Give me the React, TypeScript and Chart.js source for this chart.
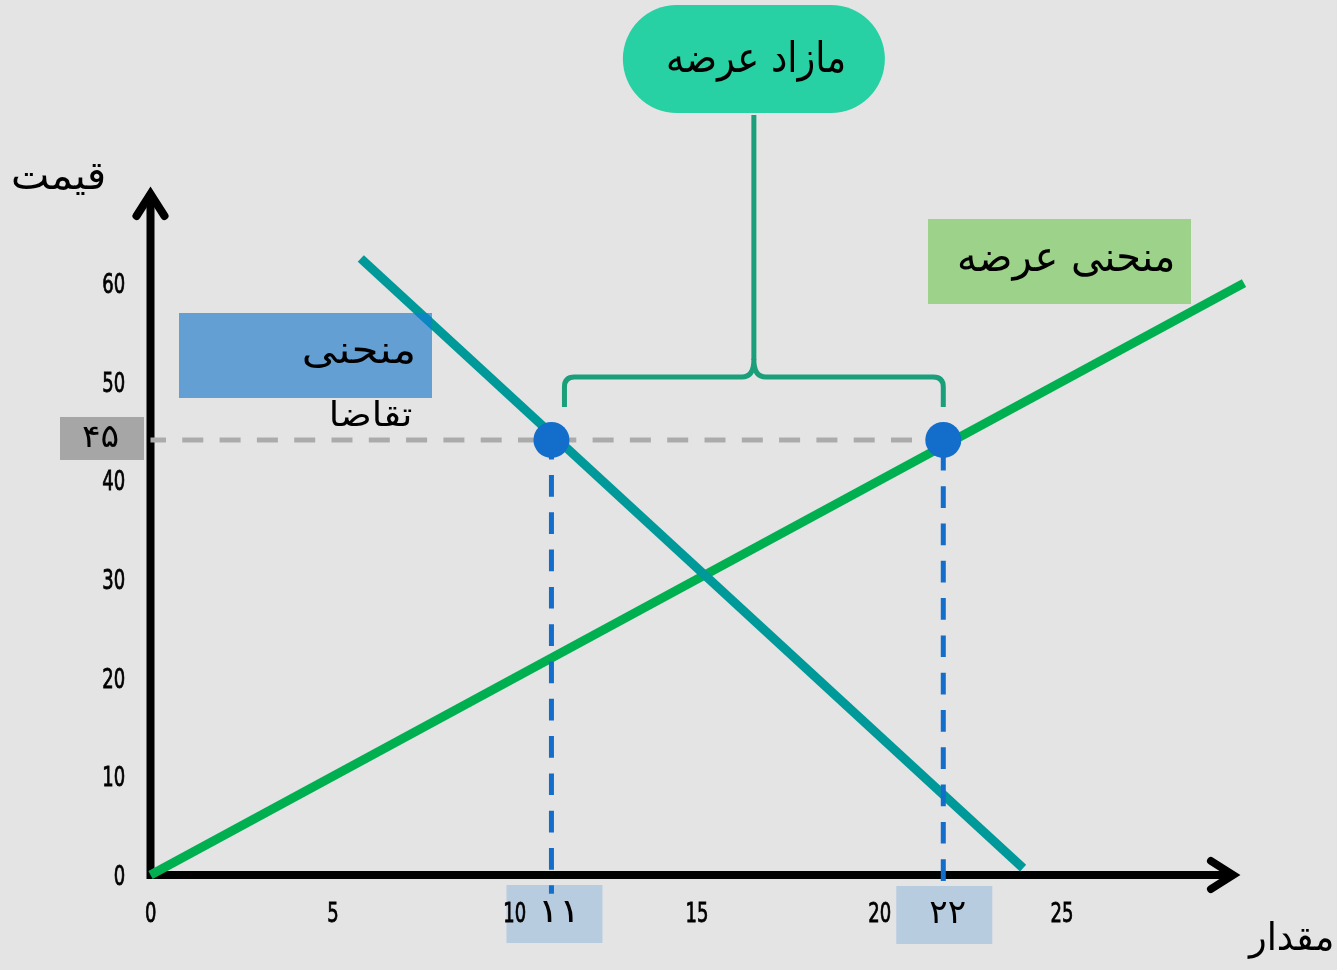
import React, { useEffect, useRef } from "react";
import { Chart, registerables } from "chart.js";

Chart.register(...registerables);

// ---- data ----
const supplyQ = [0, 30];
const supplyP = [0, 60];
const demandQ = [5.77, 23.94];
const demandP = [62.5, 0.7];
const eqPrice = 44.1;
const demandQty = 11;
const supplyQty = 21.75;
const dropTo = -1.9;
const xTicks = [0, 5, 10, 15, 20, 25];
const yTicks = [0, 10, 20, 30, 40, 50, 60];
const xMax = 30;
const yMax = 70;
const priceLabel = "۴۵";
const demandQtyLabel = "۱۱";
const supplyQtyLabel = "۲۲";
const surplusLabel = "مازاد عرضه";
const supplyCurveLabel = "منحنی عرضه";
const demandCurveLabel = ["منحنی", "تقاضا"];
const yTitle = "قیمت";
const xTitle = "مقدار";

const W = 1337;
const H = 970;
const ARABIC_FONT = '"DejaVu Sans", "Noto Sans", sans-serif';
const TICK_FONT = '"Liberation Sans Narrow", "DejaVu Sans Condensed", sans-serif';

// draw text so that its ink spans [left, left+width] on the given baseline
function fitText(ctx: CanvasRenderingContext2D, s: string, left: number, width: number, baseline: number, size: number) {
  ctx.save();
  ctx.font = `${size}px ${ARABIC_FONT}`;
  ctx.fillStyle = "#000";
  ctx.textAlign = "left";
  ctx.textBaseline = "alphabetic";
  const m = ctx.measureText(s);
  const ink = m.actualBoundingBoxLeft + m.actualBoundingBoxRight;
  let sx = ink > 0 ? width / ink : 1;
  sx = Math.max(0.6, Math.min(1.4, sx));
  ctx.translate(left, baseline);
  ctx.scale(sx, 1);
  ctx.fillText(s, m.actualBoundingBoxLeft, 0);
  ctx.restore();
}

function tickText(ctx: CanvasRenderingContext2D, s: string, x: number, y: number, align: "center" | "right") {
  const sx = 0.74;
  ctx.save();
  ctx.font = `27px ${TICK_FONT}`;
  ctx.fillStyle = "#000";
  ctx.strokeStyle = "#000";
  ctx.lineWidth = 0.8;
  ctx.textAlign = "left";
  ctx.textBaseline = "alphabetic";
  const m = ctx.measureText(s);
  const ink = (m.actualBoundingBoxLeft + m.actualBoundingBoxRight) * sx;
  const left = align === "center" ? x - ink / 2 : x - ink;
  ctx.translate(left, y);
  ctx.scale(sx, 1);
  ctx.fillText(s, m.actualBoundingBoxLeft, 0);
  ctx.strokeText(s, m.actualBoundingBoxLeft, 0);
  ctx.restore();
}

export default function App() {
  const ref = useRef<HTMLCanvasElement>(null);

  useEffect(() => {
    const canvas = ref.current!;
    const pts = (xs: number[], ys: number[]) => xs.map((x, i) => ({ x, y: ys[i] }));
    const demandBox = { x: 179, y: 313, w: 253, h: 85 };

    const overlay = {
      id: "overlay",
      beforeDraw(chart: any) {
        const { ctx } = chart;
        const xs = chart.scales.x;
        const ys = chart.scales.y;
        ctx.save();
        ctx.fillStyle = "#E4E4E4";
        ctx.fillRect(0, 0, W, H);
        const py = ys.getPixelForValue(eqPrice);
        ctx.fillStyle = "#A6A6A6";
        ctx.fillRect(60, py - 23, 84, 43);
        const bottom = ys.getPixelForValue(0);
        ctx.fillStyle = "#B8CCE0";
        const qdx = xs.getPixelForValue(demandQty);
        const qsx = xs.getPixelForValue(supplyQty);
        ctx.fillRect(qdx - 45, bottom + 10, 96, 58);
        ctx.fillRect(qsx - 47, bottom + 11, 96, 58);
        ctx.fillStyle = "#649FD4";
        ctx.fillRect(demandBox.x, demandBox.y, demandBox.w, demandBox.h);
        ctx.fillStyle = "#9DD28A";
        ctx.fillRect(928, 219, 263, 85);
        const mid = (qdx + 13 + qsx) / 2;
        ctx.fillStyle = "#27D1A3";
        ctx.beginPath();
        ctx.roundRect(mid - 131, 5, 262, 108, 54);
        ctx.fill();
        ctx.restore();
      },
      beforeDatasetsDraw(chart: any) {
        const { ctx } = chart;
        const xs = chart.scales.x;
        const ys = chart.scales.y;
        const x0 = xs.getPixelForValue(0);
        const y0 = ys.getPixelForValue(0);
        const top = chart.chartArea.top;
        const right = chart.chartArea.right;

        xs.ticks.forEach((t: any) => {
          tickText(ctx, String(t.value), xs.getPixelForValue(t.value), y0 + 47, "center");
        });
        ys.ticks.forEach((t: any) => {
          tickText(ctx, String(t.value), x0 - 26.5, ys.getPixelForValue(t.value) + 10, "right");
        });

        ctx.save();
        ctx.strokeStyle = "#000";
        ctx.lineWidth = 8;
        ctx.lineCap = "butt";
        ctx.beginPath();
        ctx.moveTo(x0, y0 + 4);
        ctx.lineTo(x0, top + 10);
        ctx.moveTo(x0 - 4, y0);
        ctx.lineTo(right - 11, y0);
        ctx.stroke();
        ctx.lineCap = "round";
        ctx.lineJoin = "miter";
        const vy = top + 9.5;
        ctx.beginPath();
        ctx.moveTo(x0 - 14, vy + 22);
        ctx.lineTo(x0, vy);
        ctx.lineTo(x0 + 14, vy + 22);
        ctx.stroke();
        const vx = right - 11;
        ctx.beginPath();
        ctx.moveTo(vx - 22, y0 - 14);
        ctx.lineTo(vx, y0);
        ctx.lineTo(vx - 22, y0 + 14);
        ctx.stroke();
        ctx.restore();
      },
      afterDatasetsDraw(chart: any) {
        const { ctx } = chart;
        const xs = chart.scales.x;
        const ys = chart.scales.y;
        const qdx = xs.getPixelForValue(demandQty);
        const qsx = xs.getPixelForValue(supplyQty);

        ctx.save();
        ctx.beginPath();
        ctx.rect(demandBox.x, demandBox.y, demandBox.w, demandBox.h);
        ctx.clip();
        ctx.strokeStyle = "#0B86C2";
        ctx.lineWidth = 9;
        ctx.beginPath();
        ctx.moveTo(xs.getPixelForValue(demandQ[0]), ys.getPixelForValue(demandP[0]));
        ctx.lineTo(xs.getPixelForValue(demandQ[1]), ys.getPixelForValue(demandP[1]));
        ctx.stroke();
        ctx.restore();

        const left = qdx + 13;
        const right = qsx;
        const mid = (left + right) / 2;
        const by = 377;
        const r = 10;
        ctx.save();
        ctx.strokeStyle = "#1A9F7A";
        ctx.lineWidth = 5;
        ctx.lineCap = "butt";
        ctx.lineJoin = "round";
        ctx.beginPath();
        ctx.moveTo(mid, 115);
        ctx.lineTo(mid, 360);
        ctx.stroke();
        ctx.beginPath();
        ctx.moveTo(left, 407);
        ctx.lineTo(left, by + r);
        ctx.quadraticCurveTo(left, by, left + r, by);
        ctx.lineTo(mid - 12, by);
        ctx.quadraticCurveTo(mid, by, mid, by - 17);
        ctx.quadraticCurveTo(mid, by, mid + 12, by);
        ctx.lineTo(right - r, by);
        ctx.quadraticCurveTo(right, by, right, by + r);
        ctx.lineTo(right, 407);
        ctx.stroke();
        ctx.restore();

        const bottom = ys.getPixelForValue(0);
        const py = ys.getPixelForValue(eqPrice);
        fitText(ctx, surplusLabel, mid - 86, 176, 72, 42);
        fitText(ctx, supplyCurveLabel, 959, 214, 271, 42);
        fitText(ctx, demandCurveLabel[0], 304, 109, 363, 39);
        fitText(ctx, demandCurveLabel[1], 332, 80, 426, 34);
        fitText(ctx, yTitle, 13, 91, 189, 40);
        fitText(ctx, xTitle, 1247, 85, 950, 38);
        fitText(ctx, priceLabel, 83, 35, py + 7, 32);
        fitText(ctx, demandQtyLabel, qdx - 9, 31, bottom + 47, 33);
        fitText(ctx, supplyQtyLabel, qsx - 13, 35, bottom + 48, 33);
      },
    };

    const chart = new Chart(canvas, {
      type: "scatter",
      data: {
        datasets: [
          {
            label: "points",
            data: pts([demandQty, supplyQty], [eqPrice, eqPrice]),
            showLine: false,
            pointRadius: 18,
            pointHoverRadius: 18,
            pointBackgroundColor: "#126DCB",
            pointBorderColor: "#126DCB",
            pointBorderWidth: 0,
            order: 0,
            clip: false,
          },
          {
            label: "qd",
            data: pts([demandQty, demandQty], [eqPrice, dropTo]),
            showLine: true,
            borderColor: "#126DCB",
            borderWidth: 5,
            borderDash: [21.7, 15.6],
            borderDashOffset: 2.3,
            pointRadius: 0,
            order: 1,
            clip: false,
          },
          {
            label: "qs",
            data: pts([supplyQty, supplyQty], [eqPrice, dropTo]),
            showLine: true,
            borderColor: "#126DCB",
            borderWidth: 5,
            borderDash: [21.7, 15.6],
            borderDashOffset: 28.4,
            pointRadius: 0,
            order: 1,
            clip: false,
          },
          {
            label: "price",
            data: pts([0, supplyQty], [eqPrice, eqPrice]),
            showLine: true,
            borderColor: "#ABABAB",
            borderWidth: 5,
            borderDash: [21, 16.3],
            borderDashOffset: 5.5,
            pointRadius: 0,
            order: 2,
            clip: false,
          },
          {
            label: "demand",
            data: pts(demandQ, demandP),
            showLine: true,
            borderColor: "#009999",
            borderWidth: 9,
            pointRadius: 0,
            order: 3,
            clip: false,
          },
          {
            label: "supply",
            data: pts(supplyQ, supplyP),
            showLine: true,
            borderColor: "#00B050",
            borderWidth: 9,
            pointRadius: 0,
            order: 4,
            clip: false,
          },
        ],
      },
      options: {
        responsive: false,
        animation: false,
        devicePixelRatio: 1,
        events: [],
        layout: { padding: { left: 0, right: 93, top: 184.5, bottom: 0 } },
        plugins: { legend: { display: false }, tooltip: { enabled: false } },
        scales: {
          x: {
            type: "linear",
            min: 0,
            max: xMax,
            grid: { display: false, drawTicks: false },
            border: { display: false },
            afterBuildTicks: (axis: any) => {
              axis.ticks = xTicks.map((v) => ({ value: v }));
            },
            afterFit: (s: any) => {
              s.height = 95;
            },
            ticks: { display: false },
          },
          y: {
            type: "linear",
            min: 0,
            max: yMax,
            grid: { display: false, drawTicks: false },
            border: { display: false },
            afterBuildTicks: (axis: any) => {
              axis.ticks = yTicks.map((v) => ({ value: v }));
            },
            afterFit: (s: any) => {
              s.width = 150.5;
            },
            ticks: { display: false },
          },
        },
      },
      plugins: [overlay],
    } as any);

    return () => chart.destroy();
  }, []);

  return (
    <div style={{ position: "absolute", left: 0, top: 0, width: W, height: H, background: "#E4E4E4" }}>
      <canvas ref={ref} width={W} height={H} style={{ display: "block", width: W, height: H }} />
    </div>
  );
}
